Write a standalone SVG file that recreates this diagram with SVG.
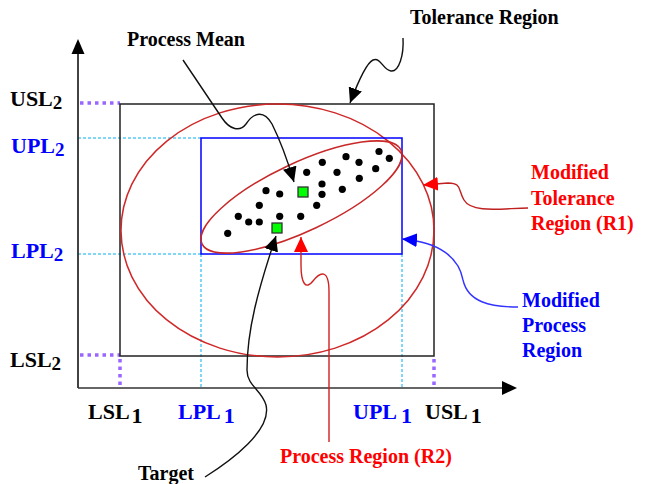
<svg xmlns="http://www.w3.org/2000/svg" width="648" height="484" viewBox="0 0 648 484">
<style>
text{font-family:"Liberation Serif","Times New Roman",serif;font-weight:bold;}
.lbl{font-size:20px;}
.ax{font-size:22px;}
.sub{font-size:19px;}
.blk{fill:#000;}
.blu{fill:#0000ff;}
.red{fill:#ff0000;}
.cy{stroke:#00aeef;stroke-width:1;stroke-dasharray:3 2;fill:none;}
.pu{stroke:#9966ff;stroke-width:3.5;stroke-dasharray:3.5 4;fill:none;}
.dot{fill:#000;}
.sq{fill:#00ff00;stroke:#333;stroke-width:1.3;}
.con{fill:none;stroke-width:1.4;}
</style>
<defs>
<marker id="ak" markerUnits="userSpaceOnUse" markerWidth="16" markerHeight="14" refX="15" refY="7" orient="auto"><path d="M0,0 L15,7 L0,14 z" fill="#000"/></marker>
<marker id="ar" markerUnits="userSpaceOnUse" markerWidth="16" markerHeight="14" refX="15" refY="7" orient="auto"><path d="M0,0 L15,7 L0,14 z" fill="#ff0000"/></marker>
<marker id="ab" markerUnits="userSpaceOnUse" markerWidth="16" markerHeight="14" refX="15" refY="7" orient="auto"><path d="M0,0 L15,7 L0,14 z" fill="#0000ff"/></marker>
</defs>
<rect width="648" height="484" fill="#fff"/>

<g id="guides">
<line class="cy" x1="78" y1="138" x2="201" y2="138"/>
<line class="cy" x1="78" y1="254" x2="201" y2="254"/>
<line class="cy" x1="201" y1="254" x2="201" y2="388"/>
<line class="cy" x1="402" y1="254" x2="402" y2="388"/>
<line class="pu" x1="80" y1="103" x2="120" y2="103"/>
<line class="pu" x1="80" y1="355" x2="120" y2="355"/>
<line class="pu" x1="120" y1="359" x2="120" y2="388"/>
<line class="pu" x1="434" y1="359" x2="434" y2="388"/>
</g>

<g id="axes">
<line x1="78" y1="388" x2="78" y2="53" stroke="#222" stroke-width="1.7"/>
<path d="M78,39 L71.5,54 L84.5,54 z" fill="#000"/>
<line x1="78" y1="388" x2="502" y2="388" stroke="#333" stroke-width="1.7"/>
<path d="M517,388 L502,381 L502,395 z" fill="#000"/>
</g>

<g id="tolerance-region">
<rect x="120" y="104" width="314" height="252" fill="none" stroke="#222" stroke-width="1.5"/>
</g>
<g id="modified-tolerance-region">
<ellipse cx="277.5" cy="230.5" rx="156.5" ry="126.5" fill="none" stroke="#d02828" stroke-width="1.5"/>
</g>
<g id="modified-process-region">
<rect x="201" y="138" width="201" height="116" fill="none" stroke="#0000ff" stroke-width="1.5"/>
</g>
<g id="process-region">
<ellipse cx="301.5" cy="197" rx="110" ry="34" transform="rotate(-25.25 301.5 197)" fill="none" stroke="#c82828" stroke-width="1.5"/>
</g>

<g id="data-points">
<circle class="dot" cx="379" cy="151.5" r="3.6"/>
<circle class="dot" cx="389.3" cy="158.3" r="3.6"/>
<circle class="dot" cx="346" cy="156.7" r="3.6"/>
<circle class="dot" cx="359" cy="162.3" r="3.6"/>
<circle class="dot" cx="322.3" cy="162.3" r="3.6"/>
<circle class="dot" cx="375.7" cy="168.7" r="3.6"/>
<circle class="dot" cx="306.7" cy="172.3" r="3.6"/>
<circle class="dot" cx="337" cy="172.3" r="3.6"/>
<circle class="dot" cx="359.3" cy="178.3" r="3.6"/>
<circle class="dot" cx="322" cy="184" r="3.6"/>
<circle class="dot" cx="342.3" cy="189.3" r="3.6"/>
<circle class="dot" cx="266" cy="190.7" r="3.6"/>
<circle class="dot" cx="279.7" cy="194" r="3.6"/>
<circle class="dot" cx="322" cy="194.3" r="3.6"/>
<circle class="dot" cx="259.3" cy="205.3" r="3.6"/>
<circle class="dot" cx="316.7" cy="205.3" r="3.6"/>
<circle class="dot" cx="238.3" cy="216.3" r="3.6"/>
<circle class="dot" cx="248.7" cy="222" r="3.6"/>
<circle class="dot" cx="259.3" cy="222" r="3.6"/>
<circle class="dot" cx="279.7" cy="216.3" r="3.6"/>
<circle class="dot" cx="300.7" cy="216.3" r="3.6"/>
<circle class="dot" cx="227.7" cy="233.3" r="3.6"/>
</g>

<g id="process-mean"><rect class="sq" x="298" y="187" width="10" height="10"/></g>
<g id="target"><rect class="sq" x="272" y="223" width="10" height="10"/></g>

<g id="connectors">
<path class="con" stroke="#111" marker-end="url(#ak)" d="M183,60 L222,118 C230,130 240,132 246,124 C254,112 264,110 272,124 C280,140 288,162 294,182"/>
<path class="con" stroke="#111" marker-end="url(#ak)" d="M403,38 C404,55 399,72 391,71 C383,70 381,57 373,60 C366,63 358,82 350,103"/>
<path class="con" stroke="#c02020" marker-end="url(#ar)" d="M528,208 C505,208 472,214 464,200 C458,190 462,183 448,183 L423,185"/>
<path class="con" stroke="#3333ff" marker-end="url(#ab)" d="M518,307 C490,307 468,302 463,280 C459,258 440,242 402,239"/>
<path class="con" stroke="#d02020" marker-end="url(#ar)" d="M329,442 L329,292 C329,268 320,272 313,281 C306,290 301,284 301,265 L301,237"/>
<path class="con" stroke="#111" marker-end="url(#ak)" d="M205,477 C232,460 272,430 266,405 C262,390 247,386 247,370 C247,330 258,290 276,236"/>
</g>

<g id="axis-labels">
<text class="ax blk" x="10" y="106">USL<tspan class="sub" y="109">2</tspan></text>
<text class="ax blu" x="11" y="153">UPL<tspan class="sub" y="156">2</tspan></text>
<text class="ax blu" x="11" y="258">LPL<tspan class="sub" y="261">2</tspan></text>
<text class="ax blk" x="10" y="366.5">LSL<tspan class="sub" y="369.5">2</tspan></text>
<text class="ax blk" x="88" y="419">LSL<tspan class="ax" dx="2" y="423">1</tspan></text>
<text class="ax blu" x="178" y="419">LPL<tspan class="ax" dx="3" y="423">1</tspan></text>
<text class="ax blu" x="353" y="419">UPL<tspan class="ax" dx="4" y="423">1</tspan></text>
<text class="ax blk" x="425" y="419">USL<tspan class="ax" dx="3" y="423">1</tspan></text>
</g>

<g id="labels">
<text class="lbl blk" x="127" y="45.5">Process Mean</text>
<text class="lbl blk" x="410" y="24">Tolerance Region</text>
<text class="lbl red" x="531" y="179">Modified</text>
<text class="lbl red" x="531" y="205">Tolerance</text>
<text class="lbl red" x="531" y="230">Region (R1)</text>
<text class="lbl blu" x="522" y="307">Modified</text>
<text class="lbl blu" x="522" y="332">Process</text>
<text class="lbl blu" x="522" y="357">Region</text>
<text class="lbl red" x="280" y="463">Process Region (R2)</text>
<text class="lbl blk" x="138" y="480">Target</text>
</g>
</svg>
